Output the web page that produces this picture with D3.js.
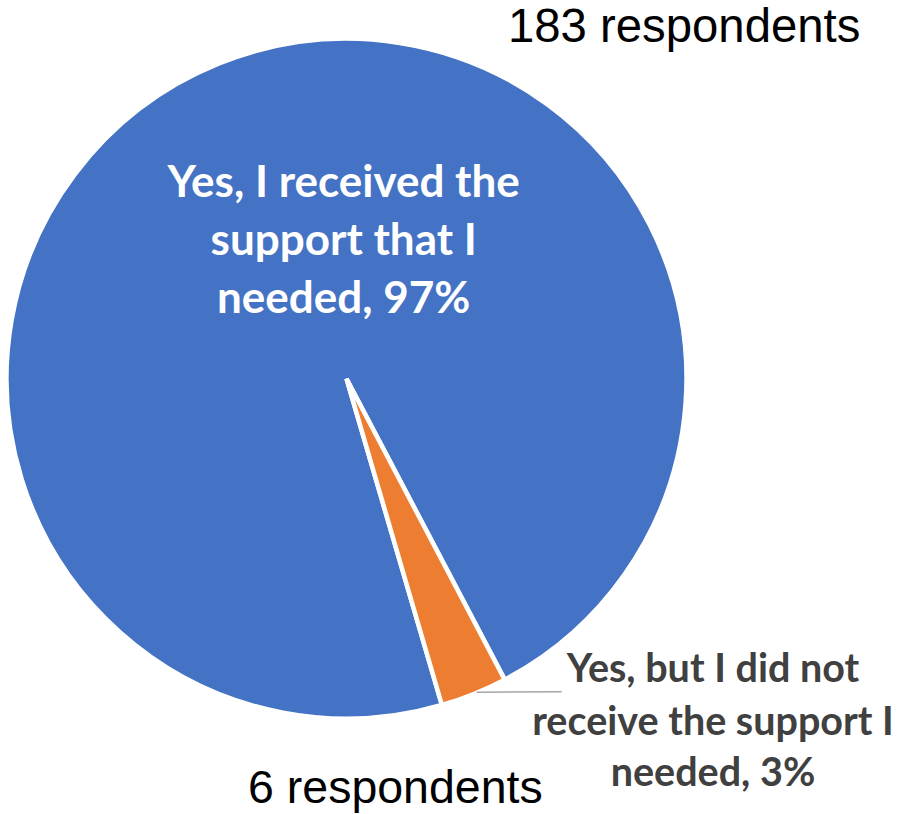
<!DOCTYPE html>
<html>
<head>
<meta charset="utf-8">
<script src="https://cdn.jsdelivr.net/npm/d3@7"></script>
<style>
  html, body { margin: 0; padding: 0; background: #ffffff; }
  svg { display: block; }
</style>
</head>
<body>
<svg id="chart" width="897" height="814"></svg>
<script>
// ---- data ----
const categories = [
  "Yes, I received the support that I needed",
  "Yes, but I did not receive the support I needed"
];
const respondents = [183, 6];
const labelLines = [
  ["Yes, I received the", "support that I", "needed, {p}"],
  ["Yes, but I did not", "receive the support I", "needed, {p}"]
];
const countLabels = ["183 respondents", "6 respondents"];
const colors = ["#4472C4", "#ED7D31"];

// ---- layout ----
const W = 897, H = 814;
const cx = 346.5, cy = 378.7, R = 340;
const firstSliceDeg = 163.7;

const svg = d3.select("#chart");
const total = d3.sum(respondents);
const data = categories.map((c, i) => ({
  category: c,
  value: respondents[i],
  pct: Math.round(respondents[i] / total * 100) + "%",
  color: colors[i],
  lines: labelLines[i]
}));

const startA = firstSliceDeg * Math.PI / 180;
const pie = d3.pie().sort(null).value(d => d.value)
  .startAngle(startA).endAngle(startA + 2 * Math.PI);
const arc = d3.arc().innerRadius(0).outerRadius(R);
const arcs = pie(data);

const g = svg.append("g").attr("transform", `translate(${cx},${cy})`);
g.selectAll("path").data(arcs).join("path")
  .attr("d", arc)
  .attr("fill", d => d.data.color)
  .attr("stroke", "#ffffff")
  .attr("stroke-width", 4.5)
  .attr("stroke-linejoin", "miter");

// main slice label
const mainLabel = svg.append("text")
  .attr("font-family", "Lato, 'Open Sans', sans-serif")
  .attr("font-weight", "bold")
  .attr("font-size", 44)
  .attr("fill", "#ffffff")
  .attr("text-anchor", "middle");
const mainBaselines = [196.7, 254.5, 312.5];
data[0].lines.forEach((t, i) => {
  mainLabel.append("tspan").attr("x", 343.7).attr("y", mainBaselines[i])
    .text(t.replace("{p}", data[0].pct));
});

// small slice label
const smallLabel = svg.append("text")
  .attr("font-family", "Lato, 'Open Sans', sans-serif")
  .attr("font-weight", "bold")
  .attr("font-size", 39.5)
  .attr("fill", "#404040")
  .attr("text-anchor", "middle");
const smallBaselines = [682, 735, 786];
data[1].lines.forEach((t, i) => {
  smallLabel.append("tspan").attr("x", 713).attr("y", smallBaselines[i])
    .text(t.replace("{p}", data[1].pct));
});

// leader line
svg.append("line")
  .attr("x1", 476.7).attr("y1", 692.3)
  .attr("x2", 561.7).attr("y2", 691.7)
  .attr("stroke", "#A6A6A6").attr("stroke-width", 1.5);

// respondent counts
svg.append("text")
  .attr("x", 508).attr("y", 41.7)
  .attr("font-family", "'Liberation Sans', Arial, sans-serif")
  .attr("font-size", 47.3)
  .attr("fill", "#000000")
  .text(countLabels[0]);
svg.append("text")
  .attr("x", 248).attr("y", 803)
  .attr("font-family", "'Liberation Sans', Arial, sans-serif")
  .attr("font-size", 46.5)
  .attr("fill", "#000000")
  .text(countLabels[1]);
</script>
</body>
</html>
